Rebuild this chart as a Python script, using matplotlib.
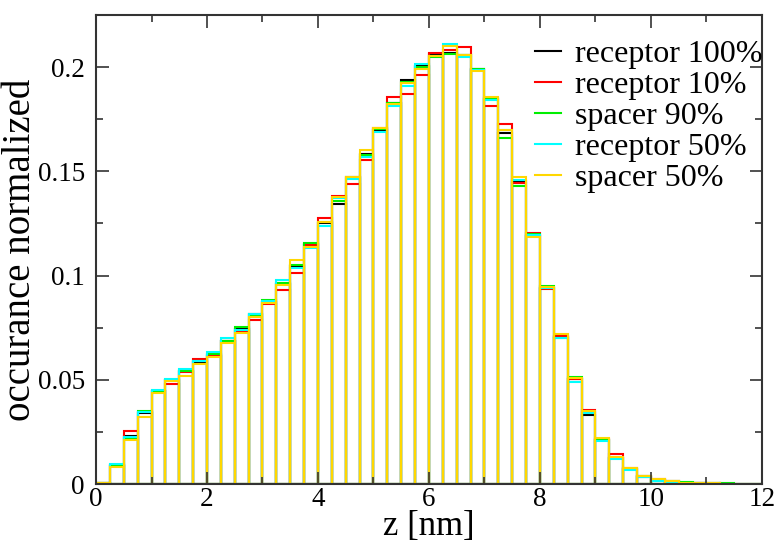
import matplotlib
matplotlib.use("Agg")
import matplotlib.pyplot as plt
import numpy as np
from matplotlib.lines import Line2D

# bin edges (nm)
bin_width = 0.25
bin_starts = [i * 0.25 for i in range(48)]

receptor_100 = [0.0005, 0.0090, 0.0230, 0.0340, 0.0448, 0.0498, 0.0540, 0.0585, 0.0615, 0.0688,
                0.0742, 0.0816, 0.0872, 0.0958, 0.1045, 0.1150, 0.1250, 0.1344, 0.1472, 0.1583,
                0.1700, 0.1830, 0.1939, 0.2006, 0.2062, 0.2070, 0.2060, 0.1991, 0.1845, 0.1683,
                0.1455, 0.1190, 0.0940, 0.0705, 0.0505, 0.0331, 0.0212, 0.0125, 0.0070, 0.0035,
                0.0018, 0.0010, 0.0006, 0.0004, 0.0002, 0.0001, 0.0001, 0.0000]
receptor_10 = [0.0005, 0.0085, 0.0256, 0.0345, 0.0445, 0.0480, 0.0535, 0.0602, 0.0620, 0.0688,
               0.0735, 0.0787, 0.0865, 0.0931, 0.1011, 0.1145, 0.1275, 0.1380, 0.1440, 0.1555,
               0.1710, 0.1859, 0.1873, 0.1963, 0.2067, 0.2083, 0.2095, 0.1985, 0.1815, 0.1726,
               0.1446, 0.1206, 0.0936, 0.0712, 0.0506, 0.0355, 0.0215, 0.0142, 0.0076, 0.0040,
               0.0022, 0.0012, 0.0007, 0.0007, 0.0003, 0.0002, 0.0001, 0.0001]
spacer_90 = [0.0005, 0.0086, 0.0220, 0.0350, 0.0447, 0.0497, 0.0542, 0.0588, 0.0622, 0.0685,
             0.0755, 0.0810, 0.0883, 0.0965, 0.1051, 0.1155, 0.1255, 0.1360, 0.1468, 0.1580,
             0.1705, 0.1828, 0.1930, 0.2000, 0.2048, 0.2063, 0.2060, 0.1991, 0.1854, 0.1659,
             0.1430, 0.1200, 0.0950, 0.0699, 0.0512, 0.0345, 0.0212, 0.0125, 0.0070, 0.0036,
             0.0020, 0.0012, 0.0008, 0.0005, 0.0004, 0.0003, 0.0002, 0.0002]
receptor_50 = [0.0005, 0.0096, 0.0227, 0.0345, 0.0451, 0.0502, 0.0552, 0.0590, 0.0632, 0.0699,
               0.0738, 0.0816, 0.0878, 0.0979, 0.1035, 0.1130, 0.1238, 0.1372, 0.1465, 0.1568,
               0.1690, 0.1814, 0.1907, 0.2014, 0.2055, 0.2110, 0.2049, 0.1985, 0.1840, 0.1697,
               0.1458, 0.1195, 0.0942, 0.0699, 0.0491, 0.0340, 0.0208, 0.0118, 0.0067, 0.0032,
               0.0015, 0.0009, 0.0005, 0.0004, 0.0003, 0.0002, 0.0001, 0.0001]
spacer_50 = [0.0005, 0.0080, 0.0211, 0.0323, 0.0435, 0.0493, 0.0518, 0.0576, 0.0611, 0.0678,
             0.0723, 0.0803, 0.0868, 0.0955, 0.1075, 0.1139, 0.1259, 0.1378, 0.1472, 0.1603,
             0.1708, 0.1823, 0.1923, 0.1990, 0.2052, 0.2102, 0.2058, 0.1983, 0.1855, 0.1700,
             0.1475, 0.1184, 0.0944, 0.0720, 0.0509, 0.0350, 0.0219, 0.0130, 0.0075, 0.0040,
             0.0022, 0.0012, 0.0007, 0.0004, 0.0003, 0.0002, 0.0001, 0.0001]

labels = ["receptor 100%", "receptor 10%", "spacer 90%", "receptor 50%", "spacer 50%"]
series = [receptor_100, receptor_10, spacer_90, receptor_50, spacer_50]
colors = ["#000000", "#ff0000", "#00ee00", "#00ffff", "#ffd700"]

x_ticks = [0, 2, 4, 6, 8, 10, 12]
y_ticks = [0, 0.05, 0.1, 0.15, 0.2]
y_tick_labels = ["0", "0.05", "0.1", "0.15", "0.2"]

plt.rcParams['font.family'] = ['Liberation Serif', 'DejaVu Serif']

fig = plt.figure(figsize=(7.79, 5.46), dpi=100)
ax = fig.add_axes([96/779, 62/546, (762-96)/779, (484-15)/546])

for vals, c in zip(series, colors):
    ax.bar(bin_starts, vals, width=bin_width, align='edge', fill=False,
           edgecolor=c, linewidth=1.5)

ax.set_xlim(0, 12)
ax.set_ylim(0, 0.225)
ax.set_xticks(x_ticks)
ax.set_xticklabels([str(t) for t in x_ticks])
ax.set_yticks(y_ticks)
ax.set_yticklabels(y_tick_labels)
ax.set_xticks(np.arange(1, 12, 2), minor=True)
ax.set_yticks(np.arange(0.025, 0.225, 0.05), minor=True)
ax.tick_params(which='both', direction='in', top=True, right=True,
               labelsize=19.5, color='#333333', width=1.2)
ax.tick_params(which='major', length=9)
ax.tick_params(which='minor', length=5)
ax.tick_params(axis='x', pad=2)
ax.tick_params(axis='y', pad=8)
for s in ax.spines.values():
    s.set_linewidth(1.5)
    s.set_color('#333333')

ax.set_xlabel("z [nm]", fontsize=25, labelpad=-1)
ax.set_ylabel("occurance normalized", fontsize=28)
ax.yaxis.set_label_coords(-0.086, 0.5)

handles = [Line2D([], [], color=c, linewidth=1.5) for c in colors]
leg = ax.legend(handles, labels, loc='upper right', frameon=False, fontsize=23,
                handlelength=0.8, handletextpad=0.45, labelspacing=0.05,
                bbox_to_anchor=(1.02, 0.975), borderaxespad=0)

fig.savefig("out.png", dpi=100)
